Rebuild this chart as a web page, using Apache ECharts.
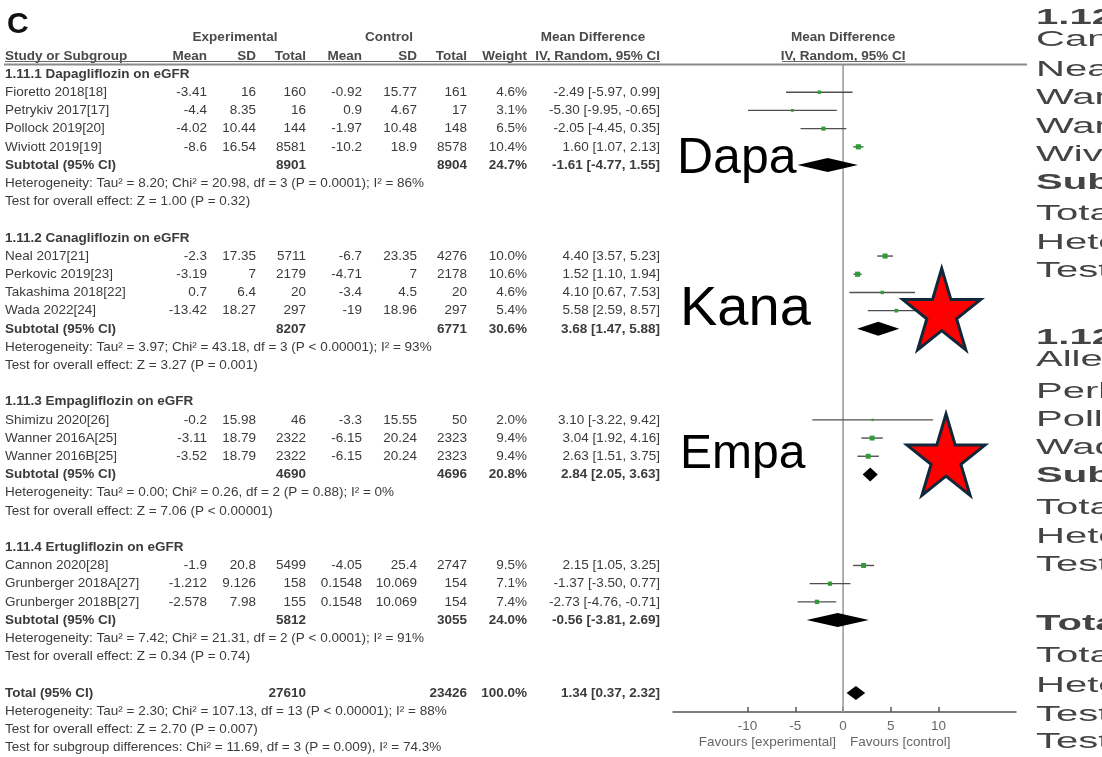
<!DOCTYPE html>
<html>
<head>
<meta charset="utf-8">
<script src="https://cdn.jsdelivr.net/npm/echarts@6/dist/echarts.min.js"></script>
<style>
  html, body { margin: 0; padding: 0; background: #fff; }
  #chart { width: 1102px; height: 757px; }
</style>
</head>
<body>
<div id="chart"></div>
<script>
// ---- Subgroups -------------------------------------------------------------
const groupTitles = [
  '1.11.1 Dapagliflozin on eGFR',
  '1.11.2 Canagliflozin on eGFR',
  '1.11.3 Empagliflozin on eGFR',
  '1.11.4 Ertugliflozin on eGFR'
];

// ---- Individual studies ----------------------------------------------------
const studyNames = [
  'Fioretto 2018[18]', 'Petrykiv 2017[17]', 'Pollock 2019[20]', 'Wiviott 2019[19]',
  'Neal 2017[21]', 'Perkovic 2019[23]', 'Takashima 2018[22]', 'Wada 2022[24]',
  'Shimizu 2020[26]', 'Wanner 2016A[25]', 'Wanner 2016B[25]',
  'Cannon 2020[28]', 'Grunberger 2018A[27]', 'Grunberger 2018B[27]'
];
const studyGroup = [0, 0, 0, 0, 1, 1, 1, 1, 2, 2, 2, 3, 3, 3];
const expMean  = [-3.41, -4.4, -4.02, -8.6, -2.3, -3.19, 0.7, -13.42, -0.2, -3.11, -3.52, -1.9, -1.212, -2.578];
const expSD    = [16, 8.35, 10.44, 16.54, 17.35, 7, 6.4, 18.27, 15.98, 18.79, 18.79, 20.8, 9.126, 7.98];
const expTotal = [160, 16, 144, 8581, 5711, 2179, 20, 297, 46, 2322, 2322, 5499, 158, 155];
const ctlMean  = [-0.92, 0.9, -1.97, -10.2, -6.7, -4.71, -3.4, -19, -3.3, -6.15, -6.15, -4.05, 0.1548, 0.1548];
const ctlSD    = [15.77, 4.67, 10.48, 18.9, 23.35, 7, 4.5, 18.96, 15.55, 20.24, 20.24, 25.4, 10.069, 10.069];
const ctlTotal = [161, 17, 148, 8578, 4276, 2178, 20, 297, 50, 2323, 2323, 2747, 154, 154];
const studyWeight = [4.6, 3.1, 6.5, 10.4, 10.0, 10.6, 4.6, 5.4, 2.0, 9.4, 9.4, 9.5, 7.1, 7.4];
const studyMD   = [-2.49, -5.30, -2.05, 1.60, 4.40, 1.52, 4.10, 5.58, 3.10, 3.04, 2.63, 2.15, -1.37, -2.73];
const studyLow  = [-5.97, -9.95, -4.45, 1.07, 3.57, 1.10, 0.67, 2.59, -3.22, 1.92, 1.51, 1.05, -3.50, -4.76];
const studyHigh = [0.99, -0.65, 0.35, 2.13, 5.23, 1.94, 7.53, 8.57, 9.42, 4.16, 3.75, 3.25, 0.77, -0.71];

// ---- Pooled subgroup estimates ---------------------------------------------
const subExpTotal = [8901, 8207, 4690, 5812];
const subCtlTotal = [8904, 6771, 4696, 3055];
const subWeight = [24.7, 30.6, 20.8, 24.0];
const subMD   = [-1.61, 3.68, 2.84, -0.56];
const subLow  = [-4.77, 1.47, 2.05, -3.81];
const subHigh = [1.55, 5.88, 3.63, 2.69];
const subHeterogeneity = [
  'Heterogeneity: Tau² = 8.20; Chi² = 20.98, df = 3 (P = 0.0001); I² = 86%',
  'Heterogeneity: Tau² = 3.97; Chi² = 43.18, df = 3 (P < 0.00001); I² = 93%',
  'Heterogeneity: Tau² = 0.00; Chi² = 0.26, df = 2 (P = 0.88); I² = 0%',
  'Heterogeneity: Tau² = 7.42; Chi² = 21.31, df = 2 (P < 0.0001); I² = 91%'
];
const subOverallEffect = [
  'Test for overall effect: Z = 1.00 (P = 0.32)',
  'Test for overall effect: Z = 3.27 (P = 0.001)',
  'Test for overall effect: Z = 7.06 (P < 0.00001)',
  'Test for overall effect: Z = 0.34 (P = 0.74)'
];

// ---- Overall estimate ------------------------------------------------------
const totalCounts = [27610, 23426];
const totalWeight = [100.0];
const totalEstimate = [1.34, 0.37, 2.32];
const totalNotes = [
  'Heterogeneity: Tau² = 2.30; Chi² = 107.13, df = 13 (P < 0.00001); I² = 88%',
  'Test for overall effect: Z = 2.70 (P = 0.007)',
  'Test for subgroup differences: Chi² = 11.69, df = 3 (P = 0.009), I² = 74.3%'
];

// ---- Axis ------------------------------------------------------------------
const xTicks = [-10, -5, 0, 5, 10];
const favourLabels = ['Favours [experimental]', 'Favours [control]'];

// ---- Callouts beside the plot ----------------------------------------------
const calloutLabels = ['Dapa', 'Kana', 'Empa'];

// ---- Neighbouring panel (cut at the right edge) ----------------------------
const sideLines = [
  '1.12.1', 'Canagliflozin', 'Neal 2017', 'Wanner 2016A', 'Wanner 2016B', 'Wiviott 2019',
  'Subtotal (95% CI)', 'Total events', 'Heterogeneity', 'Test for overall effect',
  '1.12.2', 'Allegretti 2019', 'Perkovic 2019', 'Pollock 2019', 'Wada 2022',
  'Subtotal (95% CI)', 'Total events', 'Heterogeneity', 'Test for overall effect',
  'Total (95% CI)', 'Total events', 'Heterogeneity', 'Test for overall effect',
  'Test for subgroup differences'
];
const sideBold = [1,0,0,0,0,0,1,0,0,0,1,0,0,0,0,1,0,0,0,1,0,0,0,0];

// ===========================================================================
// Layout
const FONT = '"Liberation Sans", Arial, Helvetica, sans-serif';
const TEXT = '#3b3b3b';
const HEAD = '#4a4a4a';
const COL = { name: 5, expMean: 207, expSD: 256, expN: 306, ctlMean: 362, ctlSD: 417, ctlN: 467, weight: 527, ci: 660 };
const HEAD_CENTER = { exp: 235, ctl: 389, md: 593 };
const Y_MIN = -0.55, Y_MAX = 35.05;
const sideLineY = [18,40,70,98,127,155,183,214,243,271,338,360,392,420,448,476,508,537,565,624,656,686,715,742];

const fmt2 = v => v.toFixed(2);
const ciText = (m, l, h) => fmt2(m) + ' [' + fmt2(l) + ', ' + fmt2(h) + ']';
const pct = v => v.toFixed(1) + '%';

// Build the row sequence of the table and remember which row each mark sits on
const rows = [{ row: -2, kind: 'head1' }, { row: -1, kind: 'head2' }];
const studyRow = [];
const subRow = [];
let cursor = 0;
groupTitles.forEach((title, g) => {
  rows.push({ row: cursor, kind: 'group', text: title });
  const members = studyNames.map((_, i) => i).filter(i => studyGroup[i] === g);
  members.forEach((i, k) => {
    studyRow[i] = cursor + 1 + k;
    rows.push({ row: cursor + 1 + k, kind: 'study', i });
  });
  const n = members.length;
  subRow[g] = cursor + n + 1;
  rows.push({ row: cursor + n + 1, kind: 'subtotal', g });
  rows.push({ row: cursor + n + 2, kind: 'note', text: subHeterogeneity[g] });
  rows.push({ row: cursor + n + 3, kind: 'note', text: subOverallEffect[g] });
  cursor += n + 5;
});
const totalRow = cursor;
rows.push({ row: totalRow, kind: 'total' });
totalNotes.forEach((t, k) => rows.push({ row: totalRow + 1 + k, kind: 'note', text: t }));

function cellsFor(rw, zeroX) {
  const c = [];
  const add = (t, x, a, b, col) => c.push({ t: String(t), x, a, b, col });
  switch (rw.kind) {
    case 'head1':
      add('Experimental', HEAD_CENTER.exp, 'center', true, HEAD);
      add('Control', HEAD_CENTER.ctl, 'center', true, HEAD);
      add('Mean Difference', HEAD_CENTER.md, 'center', true, HEAD);
      add('Mean Difference', zeroX, 'center', true, HEAD);
      break;
    case 'head2':
      add('Study or Subgroup', COL.name, 'left', true, HEAD);
      add('Mean', COL.expMean, 'right', true, HEAD);
      add('SD', COL.expSD, 'right', true, HEAD);
      add('Total', COL.expN, 'right', true, HEAD);
      add('Mean', COL.ctlMean, 'right', true, HEAD);
      add('SD', COL.ctlSD, 'right', true, HEAD);
      add('Total', COL.ctlN, 'right', true, HEAD);
      add('Weight', COL.weight, 'right', true, HEAD);
      add('IV, Random, 95% CI', COL.ci, 'right', true, HEAD);
      add('IV, Random, 95% CI', zeroX, 'center', true, HEAD);
      break;
    case 'group':
      add(rw.text, COL.name, 'left', true);
      break;
    case 'study': {
      const i = rw.i;
      add(studyNames[i], COL.name, 'left', false);
      add(expMean[i], COL.expMean, 'right', false);
      add(expSD[i], COL.expSD, 'right', false);
      add(expTotal[i], COL.expN, 'right', false);
      add(ctlMean[i], COL.ctlMean, 'right', false);
      add(ctlSD[i], COL.ctlSD, 'right', false);
      add(ctlTotal[i], COL.ctlN, 'right', false);
      add(pct(studyWeight[i]), COL.weight, 'right', false);
      add(ciText(studyMD[i], studyLow[i], studyHigh[i]), COL.ci, 'right', false);
      break;
    }
    case 'subtotal': {
      const g = rw.g;
      add('Subtotal (95% CI)', COL.name, 'left', true);
      add(subExpTotal[g], COL.expN, 'right', true);
      add(subCtlTotal[g], COL.ctlN, 'right', true);
      add(pct(subWeight[g]), COL.weight, 'right', true);
      add(ciText(subMD[g], subLow[g], subHigh[g]), COL.ci, 'right', true);
      break;
    }
    case 'total':
      add('Total (95% CI)', COL.name, 'left', true);
      add(totalCounts[0], COL.expN, 'right', true);
      add(totalCounts[1], COL.ctlN, 'right', true);
      add(pct(totalWeight[0]), COL.weight, 'right', true);
      add(ciText(totalEstimate[0], totalEstimate[1], totalEstimate[2]), COL.ci, 'right', true);
      break;
    case 'note':
      add(rw.text, COL.name, 'left', false);
      break;
  }
  return c;
}

function renderTableRow(params, api) {
  const rw = rows[params.dataIndex];
  const y = api.coord([0, rw.row])[1];
  const zeroX = api.coord([0, rw.row])[0];
  return {
    type: 'group',
    children: cellsFor(rw, zeroX).map(cell => ({
      type: 'text',
      style: {
        text: cell.t, x: cell.x, y: y,
        align: cell.a, verticalAlign: 'middle',
        fontFamily: FONT, fontSize: 13.5,
        fontWeight: cell.b ? 'bold' : 'normal',
        fill: cell.col || TEXT
      }
    }))
  };
}

function renderStudy(params, api) {
  const row = api.value(1);
  const lo = api.coord([api.value(2), row]);
  const hi = api.coord([api.value(3), row]);
  const c = api.coord([api.value(0), row]);
  const s = 1.6 * Math.sqrt(api.value(4));
  return {
    type: 'group',
    children: [
      { type: 'line', shape: { x1: lo[0], y1: lo[1], x2: hi[0], y2: hi[1] },
        style: { stroke: '#505050', lineWidth: 1.4 } },
      { type: 'rect', shape: { x: c[0] - s / 2, y: c[1] - s / 2, width: s, height: s },
        style: { fill: '#2f9c37' } }
    ]
  };
}

function renderDiamond(params, api) {
  const row = api.value(1);
  const lo = api.coord([api.value(2), row]);
  const m = api.coord([api.value(0), row]);
  const hi = api.coord([api.value(3), row]);
  const hh = 7;
  return {
    type: 'polygon',
    shape: { points: [[lo[0], lo[1]], [m[0], m[1] - hh], [hi[0], hi[1]], [m[0], m[1] + hh]] },
    style: { fill: '#000' }
  };
}

function starPoints(cx, cy, rx, ry) {
  const pts = [];
  for (let k = 0; k < 10; k++) {
    const a = -Math.PI / 2 + k * Math.PI / 5;
    const f = k % 2 ? 0.382 : 1;
    pts.push([cx + rx * f * Math.cos(a), cy + ry * f * Math.sin(a)]);
  }
  return pts;
}

const graphics = [
  { type: 'text', x: 7, y: 25, z: 50,
    style: { text: 'C', fontFamily: FONT, fontSize: 30, fontWeight: 'bold', fill: '#111', verticalAlign: 'middle' } },
  // header rules
  { type: 'line', z: 50, shape: { x1: 5, y1: 61.5, x2: 660, y2: 61.5 }, style: { stroke: '#666', lineWidth: 1 } },
  { type: 'line', z: 50, shape: { x1: 782, y1: 61.5, x2: 905, y2: 61.5 }, style: { stroke: '#666', lineWidth: 1 } },
  { type: 'line', z: 50, shape: { x1: 4, y1: 64.5, x2: 1027, y2: 64.5 }, style: { stroke: '#8a8a8a', lineWidth: 2 } },
  // direction labels under the axis
  { type: 'text', x: 836, y: 742, z: 50,
    style: { text: favourLabels[0], align: 'right', verticalAlign: 'middle', fontFamily: FONT, fontSize: 13.5, fill: '#666' } },
  { type: 'text', x: 850, y: 742, z: 50,
    style: { text: favourLabels[1], align: 'left', verticalAlign: 'middle', fontFamily: FONT, fontSize: 13.5, fill: '#666' } },
  // callouts
  { type: 'text', x: 677, y: 159, z: 100,
    style: { text: calloutLabels[0], verticalAlign: 'middle', fontFamily: FONT, fontSize: 50, fill: '#000' } },
  { type: 'text', x: 680, y: 310, z: 100,
    style: { text: calloutLabels[1], verticalAlign: 'middle', fontFamily: FONT, fontSize: 56, fill: '#000' } },
  { type: 'text', x: 680, y: 455, z: 100,
    style: { text: calloutLabels[2], verticalAlign: 'middle', fontFamily: FONT, fontSize: 48, fill: '#000' } },
  { type: 'polygon', z: 100, shape: { points: starPoints(941.7, 313.5, 41, 45) },
    style: { fill: '#ff0000', stroke: '#10283a', lineWidth: 3, lineJoin: 'miter' } },
  { type: 'polygon', z: 100, shape: { points: starPoints(946, 459, 41, 45) },
    style: { fill: '#ff0000', stroke: '#10283a', lineWidth: 3, lineJoin: 'miter' } }
];
sideLines.forEach((t, k) => {
  graphics.push({
    type: 'text', x: 1036, y: sideLineY[k], scaleX: 1.82, z: 50,
    style: { text: t, verticalAlign: 'middle', fontFamily: FONT, fontSize: 22,
             fontWeight: sideBold[k] ? 'bold' : 'normal', fill: '#444' }
  });
});

const chart = echarts.init(document.getElementById('chart'), null, { renderer: 'canvas' });
chart.setOption({
  animation: false,
  backgroundColor: '#fff',
  grid: { left: 673, width: 343, top: 64, height: 648, containLabel: false },
  xAxis: {
    type: 'value', min: -17.8, max: 18.1,
    axisLine: { show: true, onZero: false, lineStyle: { color: '#555', width: 1.5 } },
    axisTick: { show: true, customValues: xTicks, inside: true, length: 5, lineStyle: { color: '#555', width: 1.5 } },
    axisLabel: { customValues: xTicks, color: '#666', fontSize: 13.5, fontFamily: FONT, margin: 7 },
    splitLine: { show: false }
  },
  yAxis: { type: 'value', inverse: true, min: Y_MIN, max: Y_MAX, show: false },
  graphic: graphics,
  series: [
    {
      name: 'line of no effect', type: 'line', silent: true, z: 1,
      data: [[0, Y_MIN], [0, Y_MAX]], symbol: 'none',
      lineStyle: { color: '#9c9c9c', width: 1.6 }
    },
    {
      name: 'table', type: 'custom', silent: true, z: 2,
      data: rows.map(rw => [0, rw.row]),
      encode: { x: 0, y: 1 },
      renderItem: renderTableRow
    },
    {
      name: 'studies', type: 'custom', silent: true, z: 3,
      data: studyNames.map((_, i) => [studyMD[i], studyRow[i], studyLow[i], studyHigh[i], studyWeight[i]]),
      encode: { x: [0, 2, 3], y: 1 },
      renderItem: renderStudy
    },
    {
      name: 'pooled', type: 'custom', silent: true, z: 4,
      data: subMD.map((m, g) => [m, subRow[g], subLow[g], subHigh[g]])
        .concat([[totalEstimate[0], totalRow, totalEstimate[1], totalEstimate[2]]]),
      encode: { x: [0, 2, 3], y: 1 },
      renderItem: renderDiamond
    }
  ]
});
</script>
</body>
</html>
